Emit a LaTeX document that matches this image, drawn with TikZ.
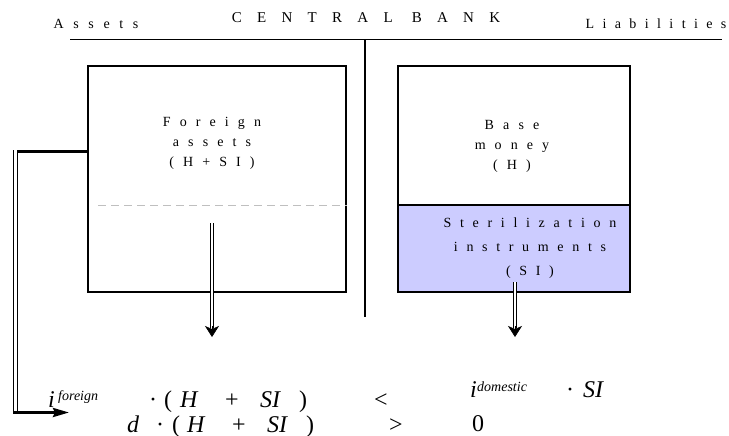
\documentclass[tikz,border=0pt]{standalone}
\usepackage{fontspec}
\setmainfont{Liberation Serif}
\newfontfamily\spfont[LetterSpace=65]{Liberation Serif}
\newfontfamily\spsfont[LetterSpace=62]{Liberation Serif}
\newfontfamily\sphfont[LetterSpace=69]{Liberation Serif}
\newfontfamily\splfont[LetterSpace=60]{Liberation Serif}
\newfontfamily\spwfont[LetterSpace=102]{Liberation Serif}
\usetikzlibrary{arrows.meta,calc}
\definecolor{lav}{RGB}{204,204,255}
\begin{document}
\begin{tikzpicture}[x=1pt,y=-1pt,
  box/.style={draw, line width=1.3pt, inner sep=0pt},
  lbl/.style={font=\spfont\fontsize{14}{20}\selectfont, align=center, inner sep=0pt},
  eqi/.style={font=\fontsize{24}{26}\selectfont\itshape, anchor=base west, inner sep=0pt},
  equ/.style={font=\fontsize{24}{26}\selectfont, anchor=base west, inner sep=0pt},
  eqdot/.style={font=\fontsize{24}{26}\selectfont, anchor=base, inner sep=0pt},
  sup/.style={font=\fontsize{14}{16}\selectfont\itshape, anchor=base west, inner sep=0pt},
  dbl/.style={double, double distance=2.4pt, line width=1pt},
  tip/.style={-{Stealth[length=11pt,width=14pt,inset=3pt]}, line width=0.6pt}
]
\useasboundingbox (0,0) rectangle (729,436);

% header
\node[font=\sphfont\fontsize{14}{16}\selectfont, inner sep=0pt] (assets) at (96,24) {Assets};
\node[font=\spwfont\fontsize{15}{16}\selectfont, inner sep=0pt] (cb) at (366,18) {CENTRAL BANK};
\node[font=\splfont\fontsize{14}{16}\selectfont, inner sep=0pt] (liab) at (656,24) {Liabilities};

% T account lines
\coordinate (tl) at (70,39.5);
\coordinate (tr) at (722,39.5);
\coordinate (tt) at (365,39.5);
\coordinate (tb) at (365,317);
\draw[line width=1.4pt] (tl) -- (tr);
\draw[line width=1.4pt] (tt) -- (tb);

% boxes
\node[box, minimum width=258pt, minimum height=226pt] (fa) at (217,179) {};
\node[box, minimum width=232pt, minimum height=139pt] (bm) at (514,135.5) {};
\node[box, fill=lav, minimum width=232pt, minimum height=87pt] (si) at (514,248.5) {};

% dashed separator
\coordinate (dl) at (98,205);
\draw[gray!50, line width=0.8pt, dash pattern=on 8pt off 5pt] (dl) -- (fa.east |- dl);

% labels
\node[lbl] (fatxt) at (212,143) {Foreign\\assets\\(H+SI)};
\node[lbl] (bmtxt) at (512,146) {Base\\money\\(H)};
\node[lbl, font=\spsfont\fontsize{14}{24}\selectfont] (sitxt) at (530,248) {Sterilization\\instruments\\(SI)};

% double arrows
\coordinate (a1s) at (212,223);
\coordinate (a1e) at (212,337);
\draw[dbl, shorten >=9pt] (a1s) -- (a1e);
\draw[tip] ($(a1e)+(0,-11)$) -- (a1e);
\coordinate (a2s) at (515,282);
\coordinate (a2e) at (515,337);
\draw[dbl, shorten >=9pt] (a2s) -- (a2e);
\draw[tip] ($(a2e)+(0,-11)$) -- (a2e);

% left connector
\coordinate (lt) at (15.5,151.5);
\coordinate (lb) at (15.5,412.5);
\coordinate (arr) at (69,412.5);
\draw[line width=3.3pt] (fa.west |- lt) -- ($(lt)+(-1.5,0)$);
\draw[dbl] ($(lt)+(0,-1.5)$) -- ($(lb)+(0,1.5)$);
\draw[line width=2.8pt, -{Stealth[length=16pt,width=9pt,inset=2pt]}] ($(lb)+(-1.5,0)$) -- (arr);

% equations row 1
\node[eqi] (i1) at (48,407) {i};
\node[sup] (fo) at (58,400) {foreign};
\node[eqdot] (d1) at (153,407) {·};
\node[equ] (p1) at (164,407) {(};
\node[eqi] (h1) at (180,407) {H};
\node[equ] (pl1) at (225,407) {+};
\node[eqi] (s1) at (260,407) {SI};
\node[equ] (q1) at (299,407) {)};
\node[equ] (lt1) at (374,407) {<};
\node[eqi] (i2) at (470,397) {i};
\node[sup] (do) at (477,391) {domestic};
\node[eqdot] (d2) at (570,397) {·};
\node[eqi] (s2) at (583,397) {SI};

% equations row 2
\node[eqi] (dd) at (127,432) {d};
\node[eqdot] (d3) at (160,432) {·};
\node[equ] (p2) at (172,432) {(};
\node[eqi] (h2) at (187,432) {H};
\node[equ] (pl2) at (232,432) {+};
\node[eqi] (s3) at (267,432) {SI};
\node[equ] (q2) at (306,432) {)};
\node[equ] (gt2) at (389,432) {>};
\node[equ] (zero) at (472,431) {0};
\end{tikzpicture}
\end{document}
